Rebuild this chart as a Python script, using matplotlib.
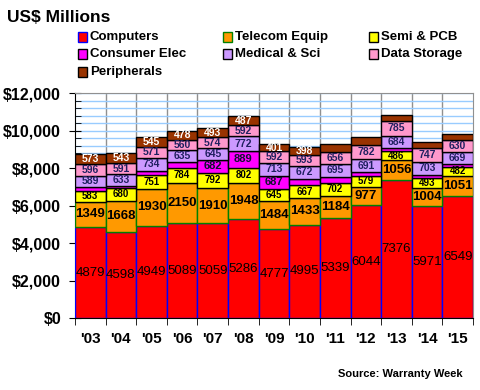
import numpy as np
import matplotlib.pyplot as plt
from matplotlib.patches import Rectangle
from matplotlib.ticker import MultipleLocator, FuncFormatter

plt.rcParams['font.family'] = ['Liberation Sans', 'DejaVu Sans']

years = ["'03", "'04", "'05", "'06", "'07", "'08", "'09", "'10", "'11", "'12", "'13", "'14", "'15"]
computers = [4879, 4598, 4949, 5089, 5059, 5286, 4777, 4995, 5339, 6044, 7376, 5971, 6549]
telecom = [1349, 1668, 1930, 2150, 1910, 1948, 1484, 1433, 1184, 977, 1056, 1004, 1051]
semi = [583, 680, 751, 784, 792, 802, 645, 667, 702, 579, 486, 493, 482]
consumer = [210, 110, 210, 300, 682, 889, 687, 355, 320, 180, 140, 170, 130]
medical = [589, 633, 734, 635, 645, 772, 713, 672, 695, 691, 684, 703, 669]
storage = [596, 591, 571, 560, 574, 592, 592, 593, 656, 782, 785, 747, 630]
periph = [573, 543, 545, 478, 493, 487, 401, 398, 400, 410, 340, 330, 330]

# which segments carry a value label in the original
show_consumer = [False, False, False, False, True, True, True, False, False, False, False, False, False]
show_periph = [True] * 8 + [False] * 5

series = [
    ("Computers", computers, "#ff0000", "#0000ff", [True] * 13, "black", 9.5, "normal"),
    ("Telecom Equip", telecom, "#ff9900", "#008000", [True] * 13, "black", 9.5, "bold"),
    ("Semi & PCB", semi, "#ffff00", "black", [True] * 13, "black", 7, "bold"),
    ("Consumer Elec", consumer, "#ff00ff", "black", show_consumer, "#101030", 8, "bold"),
    ("Medical & Sci", medical, "#cc99ff", "black", [True] * 13, "#202060", 7.5, "bold"),
    ("Data Storage", storage, "#ff99cc", "black", [True] * 13, "#202060", 7.5, "bold"),
    ("Peripherals", periph, "#993300", "black", show_periph, "white", 7.5, "bold"),
]

fig = plt.figure(figsize=(4.8, 3.9), dpi=100)
ax = fig.add_axes([75 / 480, 1 - 318.3 / 390, 398 / 480, 225 / 390])

x = np.arange(len(years))
bottom = np.zeros(len(years))
for name, vals, fc, ec, show, tc, fs, fw in series:
    vals = np.array(vals, dtype=float)
    ax.bar(x, vals, width=1.0, bottom=bottom, color=fc, edgecolor=ec, linewidth=1.0, zorder=3)
    for i in range(len(years)):
        if show[i]:
            ax.text(x[i], bottom[i] + vals[i] / 2, str(int(vals[i])), ha='center', va='center',
                    fontsize=fs, fontweight=fw, color=tc, zorder=4)
    bottom += vals

ax.set_xlim(-0.5, len(years) - 0.5)
ax.set_ylim(0, 12000)

ax.yaxis.set_major_locator(MultipleLocator(2000))
ax.yaxis.set_minor_locator(MultipleLocator(400))
ax.yaxis.set_major_formatter(FuncFormatter(lambda v, p: '${:,.0f}'.format(v)))
ax.grid(axis='y', which='both', color='#99ccff', linewidth=1.0, zorder=0)

ax.set_xticks(x)
ax.set_xticklabels(years, fontsize=11, fontweight='bold')
ax.set_xticks(np.arange(-0.5, len(years)), minor=True)
for b in np.arange(0.5, len(years) - 0.5):
    ax.axvline(b, color='#909090', linewidth=1.0, zorder=1)
ax.tick_params(axis='x', which='major', length=0, pad=10)
ax.tick_params(axis='x', which='minor', length=5, direction='out', color='black')
ax.tick_params(axis='y', which='major', length=8, direction='inout', labelsize=11.5, pad=6)
ax.tick_params(axis='y', which='minor', length=4, direction='in')
for lab in ax.get_yticklabels():
    lab.set_fontweight('bold')

ax.spines['top'].set_color('#909090')
ax.spines['right'].set_color('#909090')
ax.spines['left'].set_color('black')
ax.spines['bottom'].set_color('black')

fig.text(7 / 480, 1 - 17 / 390, "US$ Millions", fontsize=12.5, fontweight='bold', va='center', ha='left')

# legend laid out like the original (rows across)
leg_pos = [(78, 37), (223, 37), (369, 37),
           (78, 54), (223, 54), (369, 54),
           (78, 72)]
for (name, vals, fc, ec, *_), (px, py) in zip(series, leg_pos):
    fig.patches.append(Rectangle((px / 480, 1 - (py + 4.5) / 390), 9 / 480, 9 / 390,
                                 facecolor=fc, edgecolor=ec, linewidth=1.0,
                                 transform=fig.transFigure, figure=fig))
    fig.text((px + 12) / 480, 1 - py / 390, name, fontsize=9.5, fontweight='bold',
             va='center', ha='left')

fig.text(463 / 480, 1 - 374 / 390, "Source: Warranty Week", fontsize=8, fontweight='bold',
         ha='right', va='center')

fig.savefig('out.png', dpi=100)
